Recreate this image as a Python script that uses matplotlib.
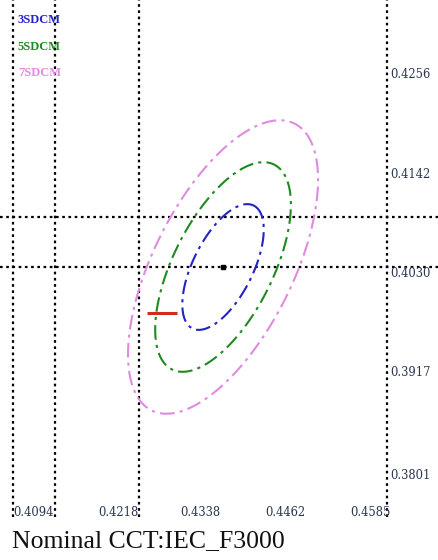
import numpy as np
import matplotlib
matplotlib.use("Agg")
import matplotlib.pyplot as plt

# ---- data ----
center_x, center_y = 0.4400, 0.4030          # IEC_F3000 nominal chromaticity
ell_a, ell_b, ell_theta = 0.00278, 0.00136, 53.7   # 1-step MacAdam ellipse
steps = [3, 5, 7]
step_labels = ["3SDCM", "5SDCM", "7SDCM"]
step_colors = ["#2424c0", "#1f8a1f", "#e08ae0"]

x_ticks = [0.4094, 0.4218, 0.4338, 0.4462, 0.4585]
x_tick_labels = ["0.4094", "0.4218", "0.4338", "0.4462", "0.4585"]
y_ticks = [0.4256, 0.4142, 0.4030, 0.3917, 0.3801]
y_tick_labels = ["0.4256", "0.4142", "0.4030", "0.3917", "0.3801"]

v_lines = [0.4094, 0.4155, 0.4278, 0.4639]
h_lines = [0.4030, 0.4087]

meas_y = 0.3978
meas_x0, meas_x1 = 0.4289, 0.4333

title = "Nominal CCT:IEC_F3000"

# ---- figure ----
W, H = 438, 560
fig = plt.figure(figsize=(W / 100, H / 100), dpi=100)
ax = fig.add_axes([0, 0, 1, 1])
kx, ky = 6864.0, 8805.0
x_left = 0.4094 - 13 / kx
x_right = x_left + W / kx
y_top = 0.4030 + 267 / ky
y_bot = y_top - H / ky
ax.set_xlim(x_left, x_right)
ax.set_ylim(y_bot, y_top)
ax.axis("off")

dot = (0, (1.2, 1.6))
y_line_bot = y_top - 517 / ky
for xv in v_lines:
    ax.plot([xv, xv], [y_line_bot, y_top], color="black", lw=1.6, ls=dot)
for yv in h_lines:
    ax.plot([x_left, x_right], [yv, yv], color="black", lw=1.6, ls=dot)

t = np.linspace(0, 2 * np.pi, 400)
th = np.deg2rad(ell_theta)
for s, c in zip(steps, step_colors):
    a, b = ell_a * s, ell_b * s
    ex = center_x + a * np.cos(t) * np.cos(th) - b * np.sin(t) * np.sin(th)
    ey = center_y + a * np.cos(t) * np.sin(th) + b * np.sin(t) * np.cos(th)
    ax.plot(ex, ey, color=c, lw=1.5, ls=(0, (7, 2.5, 1.5, 2.5)))

ax.plot([center_x], [center_y], marker="s", color="black", ms=3.5)
ax.plot([meas_x0, meas_x1], [meas_y, meas_y], color="#d42a1e", lw=2.2,
        solid_capstyle="butt")

label_color = "#2a3550"
for xv, lab in zip(x_ticks, x_tick_labels):
    ax.text(xv, y_top - 513 / ky, lab, ha="left", va="center",
            fontsize=8.3, family="DejaVu Serif", color=label_color)
for yv, lab in zip(y_ticks, y_tick_labels):
    ax.text(v_lines[-1] + 3 / kx, yv, lab, ha="left", va="top",
            fontsize=8.3, family="DejaVu Serif", color=label_color)

for i, (lab, c) in enumerate(zip(step_labels, step_colors)):
    ax.text(x_left + 18 / kx, y_top - (20 + 26.5 * i) / ky, lab, ha="left",
            va="center", fontsize=9, fontweight="bold",
            family="Liberation Serif", color=c)

fig.text(12 / W, 1 - 541 / H, title, ha="left", va="center", fontsize=18.5,
         family="Liberation Serif", color="#111111")

fig.savefig("out.png", dpi=100, facecolor="white")
